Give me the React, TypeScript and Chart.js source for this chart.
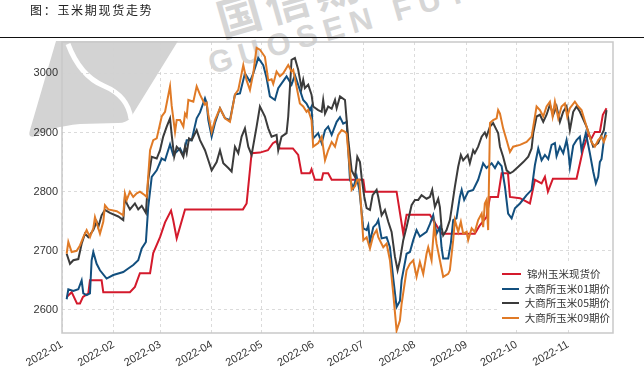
import React, { useEffect, useRef } from "react";
import { Chart, registerables } from "chart.js";

Chart.register(...registerables);

// x values are days since 2022-01-01
const monthStartDays = [0, 31, 59, 90, 120, 151, 181, 212, 243, 273, 304];
const monthLabels = ["2022-01", "2022-02", "2022-03", "2022-04", "2022-05", "2022-06", "2022-07", "2022-08", "2022-09", "2022-10", "2022-11"];
const yTicks = [2600, 2700, 2800, 2900, 3000];
const seriesNames = ["锦州玉米现货价", "大商所玉米01期价", "大商所玉米05期价", "大商所玉米09期价"];
const seriesColors = ["#d41a2c", "#124f7e", "#3b3b3b", "#e07a26"];

const spotDays = [2.8, 5.8, 9, 10.8, 12.6, 15.8, 16.8, 23.8, 24.8, 40.8, 43.8, 46.8, 52.9, 54.8, 58.9, 61.9, 65.5, 66.8, 68.9, 73.9, 108.7, 110.9, 113.9, 118.9, 123.7, 126.7, 128.5, 130.9, 138.7, 141.9, 143.9, 148.9, 149.9, 151.9, 156, 156.9, 159.9, 162, 181, 182, 201, 205, 207, 221, 228, 248, 251, 255, 257.1, 261.9, 264.1, 267.9, 269.1, 275.1, 281.1, 284.1, 288.1, 290.1, 291.9, 294.9, 309.1, 312.9, 315.9, 318.1, 320.1, 323.1, 324.9, 327.1];
const spotPrices = [2622, 2630, 2611, 2611, 2622, 2628, 2650, 2650, 2630, 2630, 2639, 2662, 2662, 2696, 2723, 2748, 2768, 2752, 2721, 2770, 2770, 2780, 2865, 2866, 2870, 2882, 2885, 2873, 2873, 2862, 2831, 2831, 2838, 2820, 2820, 2831, 2831, 2820, 2820, 2800, 2800, 2729, 2761, 2761, 2729, 2729, 2743, 2757, 2791, 2791, 2831, 2831, 2791, 2789, 2780, 2820, 2814, 2825, 2800, 2822, 2822, 2870, 2896, 2890, 2901, 2901, 2930, 2941];

const c01Days = [2.8, 3.8, 6.8, 9.8, 11.8, 12.8, 14.8, 16.8, 17.8, 18.8, 20.8, 22.8, 26.8, 30.8, 36.8, 39.8, 42.8, 45.8, 47.9, 50.4, 51.8, 53.9, 56.9, 59.9, 61.9, 64.9, 66.8, 70.9, 72.9, 74.9, 77.9, 80.9, 82.9, 85.9, 86.9, 87.9, 89.9, 91.9, 94.9, 97.9, 100.9, 103.9, 106.9, 109.9, 112.9, 114.9, 117.9, 120.9, 122.9, 124.9, 127.9, 129.9, 134.9, 137.9, 139.9, 142.9, 144.9, 146.9, 148.9, 149.9, 150.9, 153.9, 156, 158, 159.9, 162, 165, 167, 168.9, 171, 173, 175, 177, 178.6, 181, 183, 184, 185, 187, 189, 190, 192, 195, 197, 199, 201, 203, 204, 207, 209, 211, 213, 215, 219, 221, 223, 225, 227, 228, 229, 232, 233.6, 235, 237, 239, 240.1, 241.6, 244, 247, 250, 253, 255, 258.1, 260.1, 262, 264.1, 266.1, 268, 270.1, 272.1, 275.1, 279.1, 282.1, 284.1, 286.1, 288.1, 290.1, 292.1, 294.1, 296.1, 297.1, 299.1, 301.1, 303.1, 304.1, 305.1, 307.1, 309.1, 311.1, 312.1, 314.7, 317.1, 319.1, 320.7, 322.1, 323.1, 324.1, 325.5, 326.7];
const c01Prices = [2618, 2635, 2632, 2635, 2650, 2628, 2625, 2628, 2684, 2698, 2678, 2667, 2653, 2659, 2664, 2670, 2676, 2684, 2704, 2715, 2774, 2825, 2836, 2856, 2853, 2880, 2862, 2873, 2862, 2887, 2887, 2924, 2934, 2958, 2950, 2921, 2893, 2916, 2941, 2924, 2921, 2964, 2966, 3000, 2986, 3000, 3026, 3014, 2992, 2961, 2955, 2975, 2995, 2981, 2997, 2972, 2955, 2949, 2938, 2944, 2890, 2899, 2882, 2904, 2910, 2896, 2918, 2926, 2915, 2918, 2820, 2806, 2826, 2803, 2738, 2735, 2743, 2715, 2740, 2746, 2752, 2721, 2723, 2706, 2653, 2605, 2615, 2650, 2695, 2698, 2718, 2735, 2724, 2732, 2745, 2760, 2729, 2740, 2706, 2687, 2687, 2713, 2752, 2755, 2791, 2803, 2786, 2800, 2803, 2820, 2848, 2840, 2848, 2840, 2850, 2843, 2808, 2763, 2755, 2772, 2780, 2794, 2803, 2845, 2873, 2853, 2862, 2855, 2879, 2882, 2860, 2876, 2865, 2887, 2870, 2842, 2878, 2887, 2893, 2870, 2899, 2865, 2834, 2814, 2825, 2850, 2855, 2887, 2901];

const c05Days = [2.8, 4.8, 6.8, 9.8, 11.8, 13.8, 15.8, 18.8, 20.8, 21.8, 23.8, 25.8, 28.8, 33.8, 36.8, 37.8, 38.9, 40.8, 43.8, 45.8, 47.9, 50.4, 51.8, 53.9, 56.9, 58.9, 60.8, 62.9, 64.9, 65.9, 67.4, 68.9, 70.9, 72.9, 73.9, 74.9, 76.3, 77.9, 80.9, 82.9, 85.9, 87.9, 89.9, 92.9, 94.9, 96.9, 99.9, 101.9, 103.9, 105.9, 107.9, 109.9, 111.9, 113.9, 116.9, 118.9, 121.9, 123.9, 125.9, 128.9, 129.9, 131.9, 134.9, 135.9, 137.9, 139.9, 141.9, 143.9, 144.9, 145.9, 147.9, 149.9, 150.9, 153.9, 156, 156.9, 158, 159.9, 162, 164, 165, 167, 170, 172, 174, 176, 177.4, 179, 180, 181.6, 183, 185, 186.6, 189, 190, 192, 194, 196, 198, 200, 201.6, 203, 205, 207, 210, 212, 214, 216, 219, 221, 222.4, 224, 226, 227, 228, 229, 231, 233, 234, 236, 238, 239.6, 241, 243.7, 245, 247, 248, 250, 252.1, 254, 255, 257.1, 259, 261.1, 262, 263.1, 265, 267.1, 269.1, 271, 274.1, 277.1, 280.1, 282.1, 283.1, 285.1, 287.1, 289.1, 291.1, 293.1, 295.1, 297.1, 299.1, 301.1, 303.1, 305.1, 307.1, 309.1, 311.1, 315.1, 319.1, 322.1, 324.1, 325.5, 327.1];
const c05Prices = [2695, 2678, 2684, 2686, 2712, 2729, 2723, 2735, 2749, 2740, 2760, 2769, 2764, 2758, 2752, 2791, 2780, 2770, 2780, 2770, 2776, 2764, 2820, 2859, 2856, 2870, 2893, 2910, 2924, 2896, 2859, 2876, 2870, 2859, 2876, 2865, 2890, 2887, 2904, 2887, 2870, 2853, 2836, 2850, 2870, 2848, 2840, 2834, 2876, 2865, 2893, 2907, 2876, 2862, 2910, 2944, 2927, 2907, 2893, 2896, 2870, 2893, 2899, 2927, 3023, 3026, 3006, 2975, 2989, 2975, 2981, 2964, 2944, 2938, 2935, 2955, 2932, 2944, 2940, 2955, 2941, 2961, 2955, 2887, 2836, 2825, 2859, 2850, 2824, 2791, 2772, 2769, 2794, 2803, 2791, 2760, 2769, 2749, 2732, 2690, 2667, 2684, 2718, 2740, 2777, 2786, 2786, 2794, 2788, 2791, 2803, 2774, 2788, 2774, 2740, 2726, 2735, 2752, 2770, 2808, 2842, 2862, 2853, 2862, 2848, 2870, 2865, 2876, 2893, 2900, 2893, 2910, 2916, 2904, 2899, 2876, 2859, 2836, 2831, 2834, 2842, 2850, 2859, 2873, 2899, 2927, 2930, 2918, 2930, 2947, 2930, 2944, 2918, 2935, 2944, 2904, 2935, 2944, 2935, 2910, 2876, 2882, 2896, 2904, 2938];

const c09Days = [2.8, 3.8, 5.8, 8.8, 10.8, 12.8, 14.8, 16.8, 18.8, 19.8, 21.8, 22.8, 24.8, 25.8, 27.8, 32.9, 36.8, 37.8, 38.9, 40.8, 42.8, 44.9, 46.8, 49.8, 50.9, 52.9, 54.8, 56.9, 59.9, 61.9, 64.9, 65.9, 67.9, 68.9, 70.9, 72.9, 73.9, 74.9, 75.9, 78.9, 80.9, 82.9, 85.9, 86.9, 87.9, 89.9, 91.9, 94.9, 97.9, 100.9, 103.9, 105.9, 106.9, 108.9, 110.9, 112.9, 114.9, 116.9, 118.9, 121.9, 123.9, 125.9, 126.9, 128.9, 130.9, 132.9, 135.9, 137.9, 138.9, 142.9, 144.9, 146.9, 147.9, 149.9, 150.9, 153.9, 156, 158, 159.9, 162, 164, 165.9, 168, 170, 171, 173, 174, 176, 177.4, 178.6, 181, 183, 185, 187, 189, 190, 193, 195, 197, 199, 201, 203, 204, 207, 209, 211, 213, 215, 217, 219, 220, 222, 223.6, 225, 227, 229, 232, 233, 235, 236, 238, 239.6, 241, 243.1, 244, 246.1, 248, 250, 252.1, 253, 254, 255, 256, 257.1, 259, 261.1, 262, 263.1, 265, 267.1, 269.1, 271, 275.1, 279.1, 282.1, 285.1, 287.1, 289.1, 291.1, 293.1, 294.7, 296.1, 298.1, 300.1, 302.1, 303.5, 305.1, 308.1, 310.1, 312.1, 315.1, 318.1, 320.1, 322.1, 324.1, 325.5, 327.1];
const c09Prices = [2695, 2715, 2698, 2700, 2709, 2723, 2735, 2723, 2738, 2757, 2738, 2729, 2749, 2777, 2770, 2767, 2760, 2797, 2786, 2800, 2791, 2797, 2800, 2794, 2791, 2870, 2887, 2890, 2927, 2935, 2978, 2945, 2901, 2921, 2921, 2910, 2932, 2927, 2955, 2952, 2978, 2964, 2947, 2950, 2930, 2901, 2921, 2941, 2924, 2918, 2964, 2972, 2986, 3014, 2988, 2972, 3000, 3043, 3040, 3028, 2988, 2990, 2982, 3003, 2995, 3000, 3014, 3003, 3006, 2949, 2944, 2935, 2938, 2921, 2876, 2882, 2893, 2853, 2870, 2884, 2876, 2896, 2904, 2901, 2898, 2836, 2803, 2809, 2820, 2820, 2718, 2723, 2704, 2726, 2735, 2723, 2706, 2712, 2684, 2627, 2565, 2582, 2610, 2667, 2678, 2684, 2656, 2681, 2661, 2695, 2706, 2684, 2743, 2712, 2684, 2656, 2661, 2667, 2718, 2752, 2732, 2749, 2729, 2732, 2718, 2738, 2732, 2752, 2763, 2740, 2780, 2786, 2735, 2916, 2921, 2924, 2938, 2932, 2907, 2887, 2867, 2876, 2879, 2884, 2893, 2944, 2938, 2927, 2944, 2952, 2927, 2952, 2924, 2944, 2949, 2927, 2941, 2952, 2944, 2938, 2910, 2884, 2876, 2887, 2893, 2884, 2896];

const seriesDays = [spotDays, c01Days, c05Days, c09Days];
const seriesPrices = [spotPrices, c01Prices, c05Prices, c09Prices];

const tickFont = { family: "'Liberation Sans Narrow', 'Liberation Sans', sans-serif", size: 11 };

const framePlugin = {
  id: "frame",
  beforeDatasetsDraw(chart: any) {
    const { ctx, chartArea } = chart;
    ctx.save();
    ctx.strokeStyle = "#c9c9c9";
    ctx.lineWidth = 1.5;
    ctx.strokeRect(chartArea.left, chartArea.top, chartArea.right - chartArea.left, chartArea.bottom - chartArea.top);
    ctx.restore();
  },
};

function CornChart() {
  const ref = useRef<HTMLCanvasElement | null>(null);
  useEffect(() => {
    if (!ref.current) return;
    const datasets = seriesNames.map((name, s) => ({
      label: name,
      data: seriesDays[s].map((d, i) => ({ x: d, y: seriesPrices[s][i] })),
      borderColor: seriesColors[s],
      backgroundColor: seriesColors[s],
      borderWidth: 2,
      pointRadius: 0,
      tension: 0,
      fill: false,
      order: 3 - s,
    }));
    const chart = new Chart(ref.current, {
      type: "line",
      data: { datasets },
      plugins: [framePlugin],
      options: {
        animation: false,
        responsive: false,
        maintainAspectRatio: false,
        layout: { padding: { top: 42, right: 31, left: 0, bottom: 0 } },
        plugins: { legend: { display: false }, tooltip: { enabled: false } },
        scales: {
          x: {
            type: "linear",
            min: 0,
            max: 331,
            afterBuildTicks: (s: any) => {
              s.ticks = monthStartDays.map((v) => ({ value: v }));
            },
            afterFit: (s: any) => {
              s.height = 37;
            },
            grid: { color: "#d2d2d2", lineWidth: 0.8, drawTicks: false },
            border: { display: false, dash: [3, 3] },
            ticks: {
              autoSkip: false,
              minRotation: 30,
              maxRotation: 30,
              padding: 5,
              color: "#333",
              font: tickFont,
              callback: (_v: any, i: number) => monthLabels[i],
            },
          },
          y: {
            type: "linear",
            min: 2561,
            max: 3053,
            afterBuildTicks: (s: any) => {
              s.ticks = yTicks.map((v) => ({ value: v }));
            },
            afterFit: (s: any) => {
              s.width = 62;
            },
            grid: { color: "#d2d2d2", lineWidth: 0.8, drawTicks: false },
            border: { display: false, dash: [3, 3] },
            ticks: { padding: 4, color: "#333", font: tickFont, callback: (v: any) => String(v) },
          },
        },
      },
    });
    return () => chart.destroy();
  }, []);
  return <canvas ref={ref} width={644} height={370} style={{ position: "absolute", left: 0, top: 0, width: 644, height: 370, zIndex: 1 }} />;
}

export default function App() {
  const cjk = "'Noto Sans CJK SC', 'Noto Sans', sans-serif";
  return (
    <div style={{ position: "absolute", left: 0, top: 0, width: 644, height: 370, overflow: "hidden", background: "#fff" }}>
      <svg width={644} height={370} style={{ position: "absolute", left: 0, top: 0, zIndex: 0 }}>
        <path d="M 56 41 L 178 41 L 131 117 Q 127 123 118 123 L 80 124 Q 50 127 36 136 Q 27 139 30 130 Z" fill="#d3d3d3" />
        <path d="M 68 44 Q 80 76 104 86 Q 128 96 131 119" stroke="#ffffff" strokeWidth={5} fill="none" />
      </svg>
      <div style={{ position: "absolute", left: 226, top: -14, fontFamily: cjk, fontWeight: 700, fontSize: 44, color: "#d6d6d6", transform: "rotate(-16deg)", transformOrigin: "left bottom", whiteSpace: "nowrap", zIndex: 0, letterSpacing: 6 }}>国信期货</div>
      <div style={{ position: "absolute", left: 214, top: 46, fontFamily: "'Liberation Sans', sans-serif", fontWeight: 700, fontSize: 31, color: "#d6d6d6", transform: "rotate(-16deg)", transformOrigin: "left bottom", whiteSpace: "nowrap", zIndex: 0, letterSpacing: 7 }}>GUOSEN FUTURES</div>
      <div style={{ position: "absolute", left: 30, top: 1, fontFamily: cjk, fontSize: 12, lineHeight: "17px", color: "#222", letterSpacing: 1.7, zIndex: 2 }}>图：玉米期现货走势</div>
      <div style={{ position: "absolute", left: 0, top: 37, width: 644, height: 1, background: "#111", zIndex: 2 }} />
      <CornChart />
      <div style={{ position: "absolute", left: 497, top: 264, width: 113, height: 66, background: "#fff", zIndex: 2 }}>
        {seriesNames.map((name, i) => (
          <div key={name} style={{ position: "absolute", left: 0, top: 3 + i * 14.7, height: 14, width: 113, display: "flex", alignItems: "center" }}>
            <div style={{ marginLeft: 5, width: 19, height: 2, background: seriesColors[i] }} />
            <div style={{ marginLeft: 6, fontFamily: cjk, fontSize: 10.5, color: "#333", whiteSpace: "nowrap", lineHeight: "14px" }}>{name}</div>
          </div>
        ))}
      </div>
    </div>
  );
}
